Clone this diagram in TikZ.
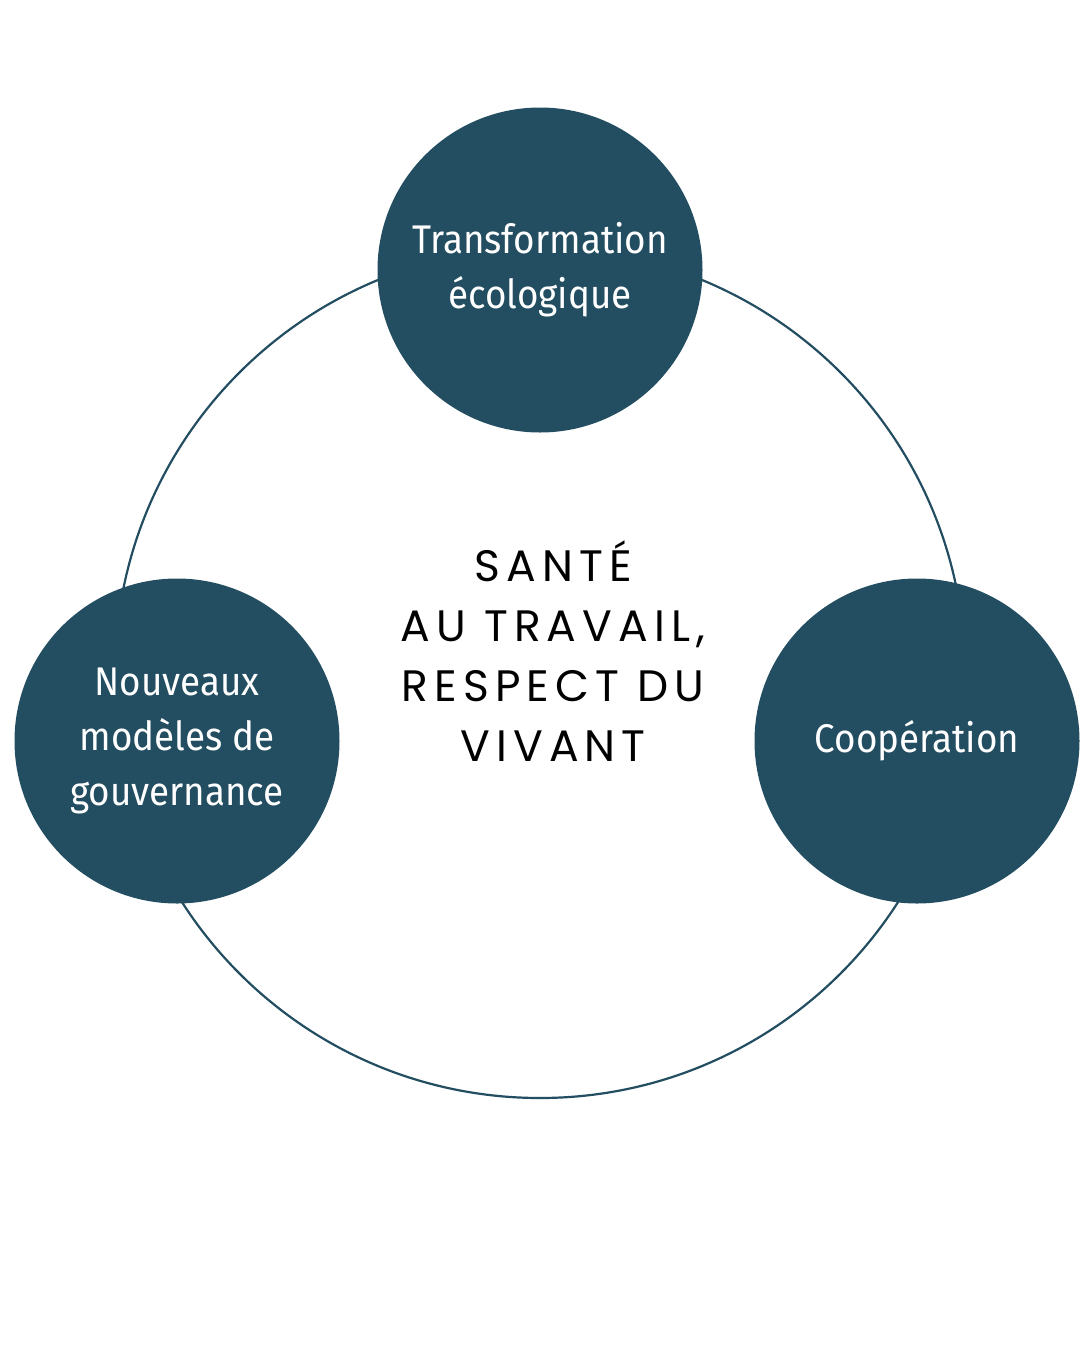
\documentclass[tikz,border=0pt]{standalone}
\usepackage{fontspec}
\setmainfont{Fira Sans}
\newfontfamily\themefont[FakeStretch=0.92]{Fira Sans}
\newfontfamily\heartfont[LetterSpace=14]{Poppins}
\definecolor{petrol}{HTML}{234E61}

\begin{document}
\begin{tikzpicture}[
    x=1pt,
    y=-1pt,
    theme/.style={
        circle,
        minimum size=325pt,
        inner sep=0pt,
        fill=petrol,
        text=white,
        font=\themefont\fontsize{40}{55}\selectfont,
        align=center
    },
    heart/.style={
        inner sep=0pt,
        font=\heartfont\fontsize{44}{60}\selectfont,
        align=center
    },
    ring/.style={
        draw=petrol,
        line width=2.2pt
    }
]
\useasboundingbox (0,0) rectangle (1080,1350);

% Outer ring
\coordinate (hub) at (540,673);
\draw[ring] (hub) circle[radius=425pt];

% Centre
\node[heart] (sante) at (553,651) {SANTÉ\\AU TRAVAIL,\\RESPECT DU\\VIVANT};

% Themes
\node[theme] (ecolo) at (540,270) {Transformation\\écologique};
\node[theme] (gouv) at (177,741) {Nouveaux\\modèles de\\gouvernance};
\node[theme] (coop) at (917,741) {Coopération};

\end{tikzpicture}
\end{document}
